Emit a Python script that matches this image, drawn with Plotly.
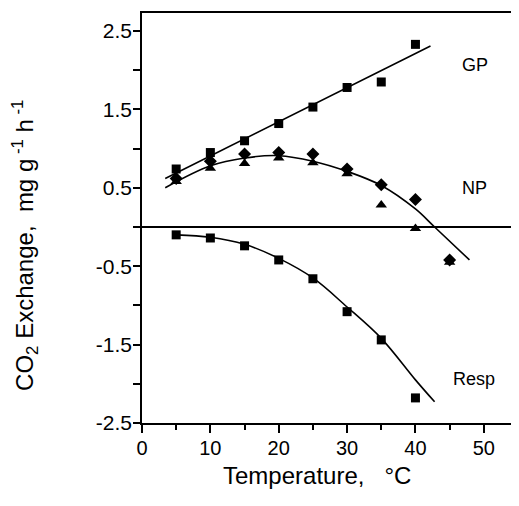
import plotly.graph_objects as go

# ---- data ----
gp_x = [5, 10, 15, 20, 25, 30, 35, 40]
gp_y = [0.74, 0.95, 1.10, 1.32, 1.53, 1.78, 1.85, 2.33]

np_tri_x = [5, 10, 15, 20, 25, 30, 35, 40, 45]
np_tri_y = [0.58, 0.75, 0.81, 0.88, 0.82, 0.68, 0.28, -0.02, -0.45]

np_dia_x = [5, 10, 15, 20, 25, 30, 35, 40, 45]
np_dia_y = [0.62, 0.84, 0.93, 0.95, 0.93, 0.74, 0.54, 0.35, -0.42]

resp_x = [5, 10, 15, 20, 25, 30, 35, 40]
resp_y = [-0.10, -0.14, -0.24, -0.42, -0.66, -1.08, -1.44, -2.18]

# fitted curves
gp_fit_x = [3.4, 42.2]
gp_fit_y = [0.62, 2.31]

np_fit_x = [3.4, 10, 15, 20, 25, 30, 35, 40, 42.8, 47.9]
np_fit_y = [0.50, 0.78, 0.88, 0.91, 0.84, 0.71, 0.53, 0.23, 0.0, -0.42]

resp_fit_x = [5, 10, 15, 20, 25, 30, 35, 40, 42.8]
resp_fit_y = [-0.10, -0.13, -0.22, -0.40, -0.65, -1.02, -1.42, -1.95, -2.23]

ytick_vals = [-2.5, -1.5, -0.5, 0.5, 1.5, 2.5]
ytick_text = ["-2.5", "-1.5", "-0.5", "0.5", "1.5", "2.5"]
xtick_vals = [0, 10, 20, 30, 40, 50]

labels = [("GP", 46.5, 2.07), ("NP", 46.5, 0.50), ("Resp", 45.2, -1.94)]

x_title = "Temperature,   °C"
y_title = "CO<sub>2</sub> Exchange,  mg g<sup> -1</sup> h<sup> -1</sup>"

FONT = "Liberation Sans, Arial, Helvetica, sans-serif"

fig = go.Figure()

line_style = dict(color="black", width=1.6)
for fx, fy in [(gp_fit_x, gp_fit_y), (np_fit_x, np_fit_y), (resp_fit_x, resp_fit_y)]:
    fig.add_trace(go.Scatter(x=fx, y=fy, mode="lines",
                             line=dict(shape="spline", smoothing=1.0, **line_style),
                             showlegend=False, hoverinfo="skip"))

fig.add_trace(go.Scatter(x=np_dia_x, y=np_dia_y, mode="markers",
                         marker=dict(symbol="diamond", size=10, color="black"), showlegend=False))
fig.add_trace(go.Scatter(x=np_tri_x, y=np_tri_y, mode="markers",
                         marker=dict(symbol="triangle-up", size=10, color="black"), showlegend=False))
fig.add_trace(go.Scatter(x=gp_x, y=gp_y, mode="markers",
                         marker=dict(symbol="square", size=9, color="black"), showlegend=False))
fig.add_trace(go.Scatter(x=resp_x, y=resp_y, mode="markers",
                         marker=dict(symbol="square", size=9, color="black"), showlegend=False))

for txt, lx, ly in labels:
    fig.add_annotation(x=lx, y=ly, text=txt, showarrow=False, xanchor="left", yanchor="middle",
                       font=dict(family=FONT, size=18, color="black"))

# axis titles placed as annotations for exact positioning
fig.add_annotation(xref="paper", yref="paper", x=0.465, y=0, yshift=-52,
                   text=x_title, showarrow=False, xanchor="center", yanchor="middle",
                   font=dict(family=FONT, size=24, color="black"))
fig.add_annotation(xref="paper", yref="paper", x=0, y=0.432, xshift=-117,
                   text=y_title, textangle=-90, showarrow=False, xanchor="center", yanchor="middle",
                   font=dict(family=FONT, size=24, color="black"))

# the page body adds an 8px margin, so the figure is sized/offset to compensate
fig.update_layout(
    width=511, height=490,
    margin=dict(l=134, r=1, t=5, b=75),
    plot_bgcolor="white", paper_bgcolor="white",
    font=dict(family=FONT, color="black"),
)

fig.update_xaxes(
    range=[0, 55], showgrid=False, zeroline=False, automargin=False,
    showline=True, mirror=True, linecolor="black", linewidth=1.6,
    tickvals=xtick_vals, ticks="outside", ticklen=8, tickwidth=1.5, tickcolor="black",
    tickfont=dict(family=FONT, size=20), ticklabelstandoff=-2,
    minor=dict(dtick=5, tick0=0, ticks="outside", ticklen=5, tickwidth=1.5, tickcolor="black"),
)
fig.update_yaxes(
    range=[-2.5, 2.73], showgrid=False, automargin=False,
    zeroline=True, zerolinecolor="black", zerolinewidth=1.6,
    showline=True, mirror=True, linecolor="black", linewidth=1.6,
    tickvals=ytick_vals, ticktext=ytick_text, ticks="outside", ticklen=7, tickwidth=1.5, tickcolor="black",
    tickfont=dict(family=FONT, size=21), ticklabelstandoff=-3,
    minor=dict(dtick=0.5, tick0=0, ticks="outside", ticklen=7, tickwidth=1.5, tickcolor="black"),
)

fig.write_html("out.html")
